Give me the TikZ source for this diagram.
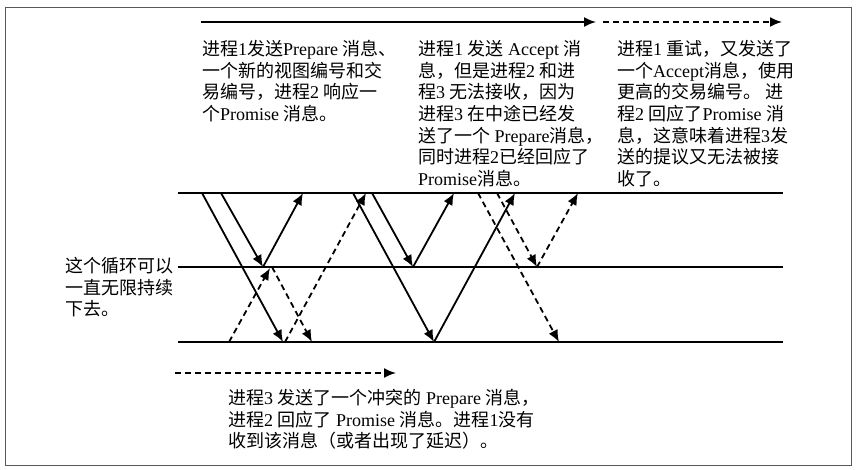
\documentclass[tikz,border=0pt]{standalone}
\usepackage{fontspec}
\setmainfont{Liberation Serif}
\newfontfamily\cjk{Noto Sans CJK SC}
\usetikzlibrary{arrows.meta}
\XeTeXinterchartokenstate=1
\newXeTeXintercharclass\cjkcls
\newcount\cjkn
\def\setcjkrange#1#2{\cjkn=#1\relax\loop\XeTeXcharclass\cjkn=\cjkcls\relax\ifnum\cjkn<#2\relax\advance\cjkn by 1\relax\repeat}
\setcjkrange{"3000}{"303F}
\setcjkrange{"4E00}{"9FFF}
\setcjkrange{"FF00}{"FFEF}
\XeTeXinterchartoks 0 \cjkcls = {\begingroup\cjk}
\XeTeXinterchartoks 4095 \cjkcls = {\begingroup\cjk}
\XeTeXinterchartoks \cjkcls 0 = {\endgroup}
\XeTeXinterchartoks \cjkcls 4095 = {\endgroup}
\begin{document}
\begin{tikzpicture}[x=1pt,y=-1pt,
  lane/.style={line width=2.2pt},
  msg/.style={line width=1.8pt,-{Latex[length=12pt,width=10pt]}},
  dmsg/.style={msg,dash pattern=on 6pt off 4pt},
  note/.style={anchor=north west,inner sep=0pt,align=left,font=\fontsize{18}{21.7}\selectfont}]
\useasboundingbox (0,0) rectangle (858,470);
\draw[gray!70!black,line width=1pt] (5,8) rectangle (851,465);
% lanes
\coordinate (T0) at (178,193); \coordinate (T1) at (783,193);
\coordinate (M0) at (178,267); \coordinate (M1) at (783,267);
\coordinate (B0) at (178,342); \coordinate (B1) at (783,342);
\draw[lane] (T0) -- (T1);
\draw[lane] (M0) -- (M1);
\draw[lane] (B0) -- (B1);
% timeline arrows
\coordinate (a0) at (201,22); \coordinate (a1) at (596,22);
\coordinate (b0) at (603,22); \coordinate (b1) at (782,22);
\coordinate (c0) at (175,373); \coordinate (c1) at (396,373);
\draw[msg] (a0) -- (a1);
\draw[dmsg] (b0) -- (b1);
\draw[dmsg] (c0) -- (c1);
% endpoints
\coordinate (s1a) at (202,193); \coordinate (s1b) at (283,342);
\coordinate (s2a) at (221,193); \coordinate (s2b) at (263,267);
\coordinate (s3b) at (303,193);
\coordinate (s4a) at (353,193); \coordinate (s4b) at (434,342);
\coordinate (s5a) at (372,193); \coordinate (s5b) at (413,267);
\coordinate (s6b) at (454,193);
\coordinate (s7b) at (515,193);
\coordinate (d1a) at (229,342); \coordinate (d1b) at (270,268);
\coordinate (d2a) at (272,267); \coordinate (d2b) at (312,342);
\coordinate (d3a) at (285,342); \coordinate (d3b) at (366,193);
\coordinate (d4a) at (478,193); \coordinate (d4b) at (559,342);
\coordinate (d5a) at (497,193); \coordinate (d5b) at (537,267);
\coordinate (d6b) at (578,193);
\draw[msg] (s1a) -- (s1b);
\draw[msg] (s2a) -- (s2b);
\draw[msg] (s2b) -- (s3b);
\draw[msg] (s4a) -- (s4b);
\draw[msg] (s5a) -- (s5b);
\draw[msg] (s5b) -- (s6b);
\draw[msg] (s4b) -- (s7b);
\draw[dmsg] (d1a) -- (d1b);
\draw[dmsg] (d2a) -- (d2b);
\draw[dmsg] (d3a) -- (d3b);
\draw[dmsg] (d4a) -- (d4b);
\draw[dmsg] (d5a) -- (d5b);
\draw[dmsg] (d5b) -- (d6b);
% notes
\node[note] (n1) at (202,40) {进程1发送Prepare 消息、\\一个新的视图编号和交\\易编号，进程2 响应一\\个Promise 消息。};
\node[note] (n2) at (418,40) {进程1 发送 Accept 消\\息，但是进程2 和进\\程3 无法接收，因为\\进程3 在中途已经发\\送了一个 Prepare消息，\\同时进程2已经回应了\\Promise消息。};
\node[note] (n3) at (617,40) {进程1 重试，又发送了\\一个Accept消息，使用\\更高的交易编号。 进\\程2 回应了Promise 消\\息，这意味着进程3发\\送的提议又无法被接\\收了。};
\node[note] (n4) at (228,389) {进程3 发送了一个冲突的 Prepare 消息，\\进程2 回应了 Promise 消息。进程1没有\\收到该消息（或者出现了延迟）。};
\node[note] (n5) at (65,257) {这个循环可以\\一直无限持续\\下去。};
\end{tikzpicture}
\end{document}
